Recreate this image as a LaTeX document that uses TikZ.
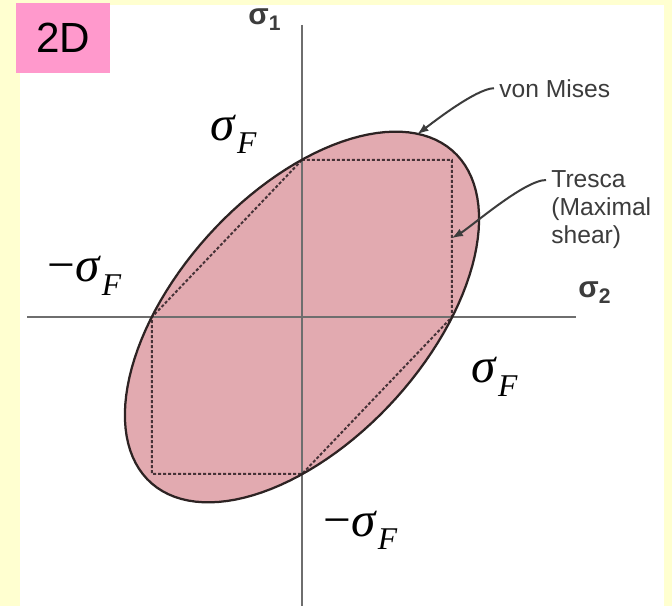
\documentclass[tikz,border=0pt]{standalone}
\usepackage{fontspec}
\setmainfont{Liberation Sans}
\newfontfamily\timesfont{Liberation Serif}

\definecolor{bgyellow}{RGB}{255,255,208}
\definecolor{boxpink}{RGB}{255,153,204}
\definecolor{vmfill}{RGB}{226,170,176}
\definecolor{vmline}{RGB}{45,35,35}
\definecolor{axisgray}{RGB}{110,110,110}
\definecolor{dashgray}{RGB}{70,50,55}
\definecolor{notegray}{RGB}{60,60,60}

\newcommand{\sigF}{{\timesfont\itshape σ}\kern0.05em\raisebox{-0.28em}{\fontsize{18}{18}\selectfont\timesfont\itshape F}}
\newcommand{\negsigF}{{\timesfont −}\sigF}
\newcommand{\sigi}[1]{σ\raisebox{-0.2em}{\fontsize{12}{12}\selectfont #1}}

\begin{document}
\begin{tikzpicture}[x=3cm, y=3.14cm,
    axis/.style={line width=0.55mm, axisgray},
    tresca/.style={line width=0.4mm, dashgray, dash pattern=on 0.6mm off 0.4mm},
    yieldlabel/.style={inner sep=0pt, anchor=base west, font=\fontsize{28}{30}\selectfont},
    axislabel/.style={inner sep=0pt, anchor=base west, text=notegray, font=\fontsize{17}{19}\selectfont\bfseries},
    note/.style={inner sep=1mm, text=notegray, font=\fontsize{14}{16}\selectfont},
    pointer/.style={-latex, line width=0.4mm, notegray}
]
% background
\fill[bgyellow] (-2.0133,-1.8408) rectangle (2.4667,2.0191);
\fill[white] (-1.88,-1.8408) rectangle (2.4133,1.987);
\node[fill=boxpink, minimum width=18.8mm, minimum height=14mm, inner sep=0pt,
      font=\fontsize{24}{26}\selectfont] (dim) at (-1.593,1.777) {2D};

% von Mises ellipse (fill)
\fill[vmfill] plot[domain=0:360, samples=121, variable=\t]
    ({1.46*cos(\t)*cos(45) - 0.81*sin(\t)*sin(45)}, {1.46*cos(\t)*sin(45) + 0.81*sin(\t)*cos(45)}) -- cycle;

% axes
\draw[axis] (-1.833,0) -- (1.827,0);
\draw[axis] (0,1.86) -- (0,-1.8408);

% Tresca hexagon
\draw[tresca] (0,1) -- (1,1) -- (1,0) -- (0,-1) -- (-1,-1) -- (-1,0) -- cycle;

% von Mises ellipse (outline)
\draw[line width=0.45mm, vmline] plot[domain=0:360, samples=121, variable=\t]
    ({1.46*cos(\t)*cos(45) - 0.81*sin(\t)*sin(45)}, {1.46*cos(\t)*sin(45) + 0.81*sin(\t)*cos(45)}) -- cycle;

% axis labels
\node[axislabel] (s1) at (-0.36,1.86) {\sigi{1}};
\node[axislabel] (s2) at (1.84,0.121) {\sigi{2}};

% yield stress labels
\node[yieldlabel] (ftop) at (-0.613,1.127) {\sigF};
\node[yieldlabel] (fleft) at (-1.7,0.223) {\negsigF};
\node[yieldlabel] (fright) at (1.127,-0.42) {\sigF};
\node[yieldlabel] (fbot) at (0.14,-1.395) {\negsigF};

% criterion labels
\node[note, anchor=base west] (vm) at (1.28,1.401) {von Mises};
\node[note, anchor=north west, align=left] (tr) at (1.627,0.968) {Tresca\\(Maximal\\shear)};

\coordinate (vmtip) at (0.77,1.165);
\coordinate (trtip) at (1,0.503);
\draw[pointer] (vm.west) to[out=180, in=37, looseness=0.5] (vmtip);
\draw[pointer] ([yshift=-3mm]tr.north west) to[out=180, in=30, looseness=0.5] (trtip);
\end{tikzpicture}
\end{document}
